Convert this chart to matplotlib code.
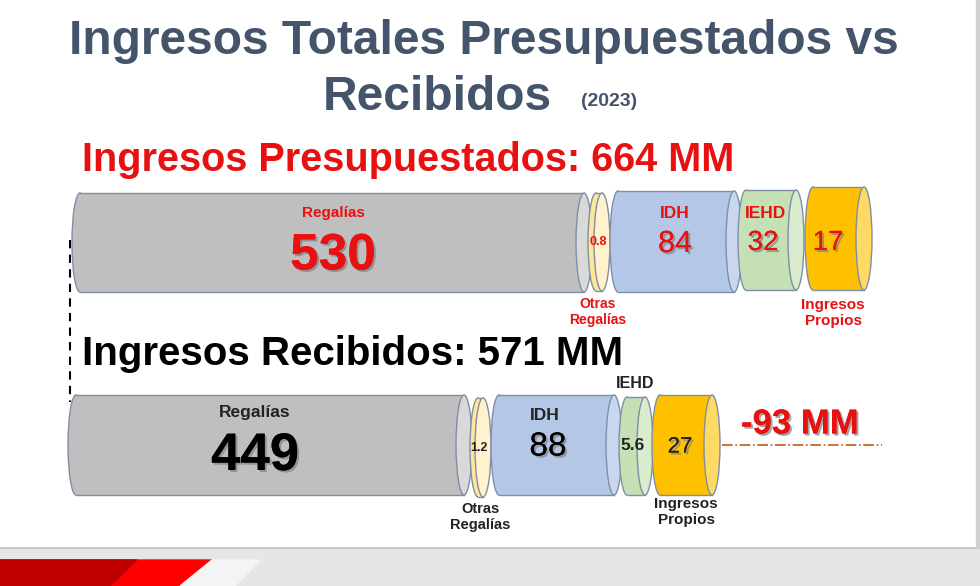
import matplotlib
matplotlib.use("Agg")
import matplotlib.pyplot as plt
from matplotlib.patches import Ellipse, Rectangle, Polygon
import matplotlib.patheffects as pe

plt.rcParams['font.family'] = ['Liberation Sans', 'DejaVu Sans']

# datos
categorias = ['Regalías', 'Otras\nRegalías', 'IDH', 'IEHD', 'Ingresos\nPropios']
presupuestado = [530, 0.8, 84, 32, 17]
recibido = [449, 1.2, 88, 5.6, 27]
total_presupuestado = 664
total_recibido = 571
diferencia = total_recibido - total_presupuestado

# colores de cada cilindro (cuerpo, tapa)
colores = ['#bfbfbf', '#ffe699', '#b4c7e7', '#c5e0b4', '#ffc000']
tapas = ['#d9d9d9', '#fff2cc', '#c9d7ee', '#d9ecce', '#ffd966']

# geometria (pixeles) de cada cilindro: x inicio, x fin, y arriba, y abajo
geo_pres = [(72, 592, 193, 292), (588, 610, 193, 291), (610, 742, 191, 292),
            (738, 804, 190, 290), (805, 872, 187, 290)]
geo_rec = [(68, 472, 395, 495), (470, 491, 398, 497), (491, 622, 395, 495),
           (619, 653, 397, 495), (652, 720, 395, 495)]

fig = plt.figure(figsize=(9.8, 5.86), dpi=100)
ax = fig.add_axes([0, 0, 1, 1])
ax.set_xlim(0, 980)
ax.set_ylim(586, 0)
ax.axis('off')

# fondo inferior de la diapositiva
ax.add_patch(Rectangle((0, 548), 980, 38, color='#e6e6e6', zorder=0))
ax.plot([0, 980], [548, 548], color='#c8c8c8', lw=1.5, zorder=1)
ax.add_patch(Polygon([(0, 560), (212, 560), (180, 586), (0, 586)], color='#ff0000', zorder=1))
ax.add_patch(Polygon([(0, 560), (137, 560), (110, 586), (0, 586)], color='#c00000', zorder=1))
ax.add_patch(Polygon([(212, 560), (260, 560), (235, 586), (180, 586)], color='#f4f4f4', zorder=1))
ax.add_patch(Rectangle((976, 0), 4, 548, color='#d0d0d0', zorder=1))


def cilindro(x0, x1, y0, y1, color, tapa, rx):
    h = y1 - y0
    yc = (y0 + y1) / 2
    ax.add_patch(Ellipse((x0 + rx, yc), 2 * rx, h, facecolor=color, edgecolor='#7f8fa6', lw=1.0, zorder=3))
    ax.add_patch(Rectangle((x0 + rx, y0), x1 - x0 - 2 * rx, h, facecolor=color, edgecolor='none', zorder=3))
    ax.plot([x0 + rx, x1 - rx], [y0, y0], color='#7f8fa6', lw=1.0, zorder=3)
    ax.plot([x0 + rx, x1 - rx], [y1, y1], color='#7f8fa6', lw=1.0, zorder=3)
    ax.add_patch(Ellipse((x1 - rx, yc), 2 * rx, h, facecolor=tapa, edgecolor='#7f8fa6', lw=1.0, zorder=3))


for g, c, t in zip(geo_pres, colores, tapas):
    cilindro(g[0], g[1], g[2], g[3], c, t, 8)
for g, c, t in zip(geo_rec, colores, tapas):
    cilindro(g[0], g[1], g[2], g[3], c, t, 8)

sombra = [pe.withSimplePatchShadow(offset=(1.5, -1.5), shadow_rgbFace='#808080', alpha=0.7), pe.Normal()]


def fmt(v):
    return f'{v:g}'


# titulo
titulo_color = '#44546a'
ax.text(484, 42, 'Ingresos Totales Presupuestados vs', ha='center', va='center',
        fontsize=34.5, fontweight='bold', color=titulo_color)
ax.text(437, 98, 'Recibidos', ha='center', va='center', fontsize=34.5, fontweight='bold', color=titulo_color)
ax.text(609, 102, '(2023)', ha='center', va='center', fontsize=14, fontweight='bold', color=titulo_color)

rojo = '#e81010'
ax.text(82, 160, f'Ingresos Presupuestados: {total_presupuestado} MM', ha='left', va='center',
        fontsize=28.5, fontweight='bold', color=rojo)
ax.text(82, 354, f'Ingresos Recibidos: {total_recibido} MM', ha='left', va='center',
        fontsize=29, fontweight='bold', color='black')

# etiquetas fila presupuestada
ax.text(333, 213, categorias[0], ha='center', va='center', fontsize=11, fontweight='bold', color=rojo, zorder=5)
ax.text(333, 256, fmt(presupuestado[0]), ha='center', va='center', fontsize=37, fontweight='bold',
        color=rojo, path_effects=sombra, zorder=5)
ax.text(598, 242, fmt(presupuestado[1]), ha='center', va='center', fontsize=9, fontweight='bold', color=rojo, zorder=5)
ax.text(598, 312, categorias[1], ha='center', va='center', fontsize=10, fontweight='bold', color=rojo,
        linespacing=1.1, zorder=5)
ax.text(675, 213, categorias[2], ha='center', va='center', fontsize=12.5, fontweight='bold', color=rojo, zorder=5)
ax.text(675, 244, fmt(presupuestado[2]), ha='center', va='center', fontsize=22, color=rojo,
        path_effects=sombra, zorder=5)
ax.text(765, 213, categorias[3], ha='center', va='center', fontsize=12.5, fontweight='bold', color=rojo, zorder=5)
ax.text(763, 243, fmt(presupuestado[3]), ha='center', va='center', fontsize=20, color=rojo,
        path_effects=sombra, zorder=5)
ax.text(828, 243, fmt(presupuestado[4]), ha='center', va='center', fontsize=20, color=rojo,
        path_effects=sombra, zorder=5)
ax.text(833, 313, categorias[4], ha='center', va='center', fontsize=11, fontweight='bold', color=rojo,
        linespacing=1.1, zorder=5)

# etiquetas fila recibida
ax.text(255, 413, categorias[0], ha='center', va='center', fontsize=12.5, fontweight='bold', color='#222222', zorder=5)
ax.text(255, 456, fmt(recibido[0]), ha='center', va='center', fontsize=38, fontweight='bold',
        color='black', path_effects=sombra, zorder=5)
ax.text(479, 448, fmt(recibido[1]), ha='center', va='center', fontsize=9, fontweight='bold', color='#222222', zorder=5)
ax.text(480, 517, categorias[1], ha='center', va='center', fontsize=10.5, fontweight='bold', color='#222222',
        linespacing=1.1, zorder=5)
ax.text(545, 415, categorias[2], ha='center', va='center', fontsize=12.5, fontweight='bold', color='#222222', zorder=5)
ax.text(548, 447, fmt(recibido[2]), ha='center', va='center', fontsize=24, color='black',
        path_effects=sombra, zorder=5)
ax.text(635, 383, categorias[3], ha='center', va='center', fontsize=11.5, fontweight='bold', color='#222222', zorder=5)
ax.text(633, 446, fmt(recibido[3]), ha='center', va='center', fontsize=12.5, fontweight='bold', color='#222222', zorder=5)
ax.text(680, 447, fmt(recibido[4]), ha='center', va='center', fontsize=16, color='#222222',
        path_effects=sombra, zorder=5)
ax.text(686, 512, categorias[4], ha='center', va='center', fontsize=11, fontweight='bold', color='#222222',
        linespacing=1.1, zorder=5)

# diferencia
ax.text(800, 424, f'{diferencia} MM', ha='center', va='center', fontsize=25, fontweight='bold',
        color=rojo, path_effects=sombra, zorder=5)
ax.plot([722, 882], [445, 445], color='#c55a11', lw=1.2, ls='-.', zorder=4)

# linea vertical punteada
ax.plot([70, 70], [240, 402], color='black', lw=1.5, ls=(0, (4, 3)), zorder=2)

fig.savefig('out.png', dpi=100)
